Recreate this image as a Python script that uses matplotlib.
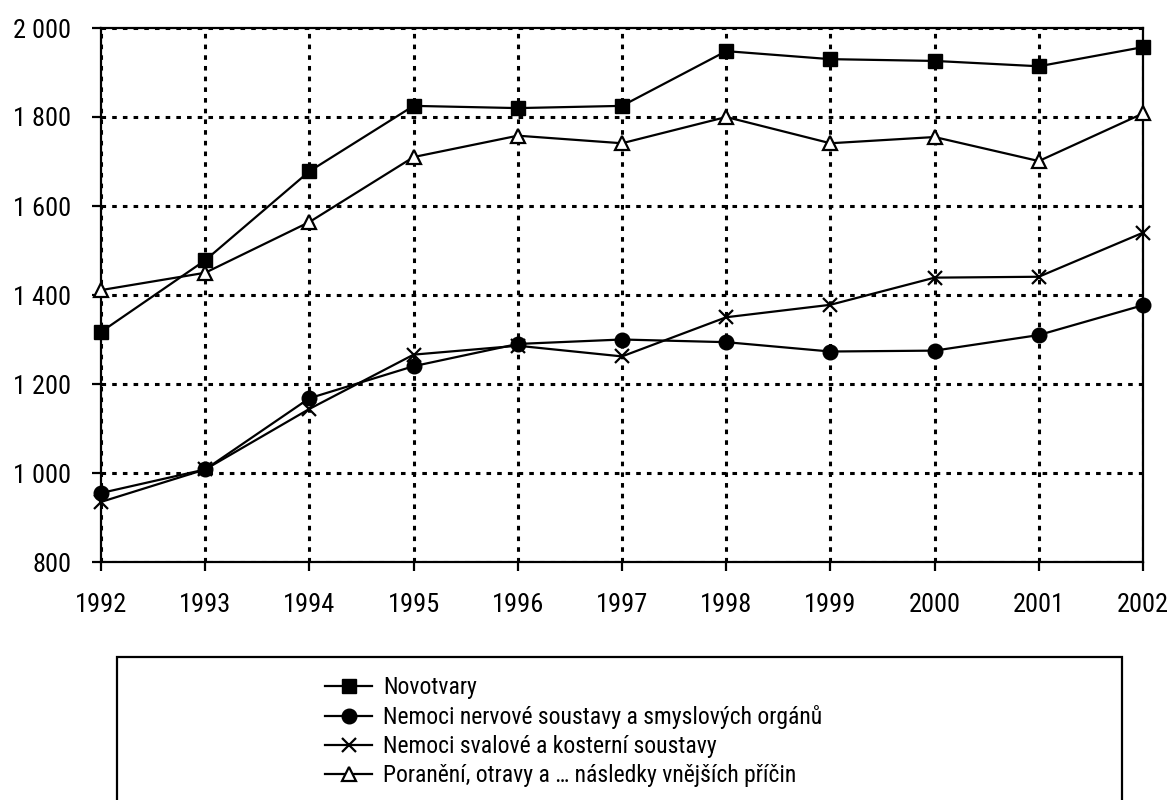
import matplotlib.pyplot as plt
from matplotlib import font_manager
from matplotlib.ticker import FuncFormatter
from matplotlib.patches import Rectangle

# prefer a narrow sans (the original uses Arial Narrow)
installed = {f.name for f in font_manager.fontManager.ttflist}
narrow = [n for n in ['Liberation Sans Narrow', 'Arial Narrow', 'Roboto Condensed',
                      'Noto Sans Condensed', 'Open Sans Condensed', 'DejaVu Sans Condensed']
          if n in installed]
plt.rcParams['font.family'] = narrow + ['Liberation Sans', 'DejaVu Sans']
is_narrow = bool(narrow)

years = [1992, 1993, 1994, 1995, 1996, 1997, 1998, 1999, 2000, 2001, 2002]
novotvary = [1317, 1478, 1678, 1825, 1820, 1825, 1948, 1930, 1926, 1914, 1957]
nervove = [955, 1008, 1168, 1240, 1290, 1300, 1294, 1273, 1275, 1310, 1377]
svalove = [935, 1008, 1144, 1266, 1286, 1262, 1350, 1378, 1439, 1441, 1540]
poraneni = [1411, 1450, 1564, 1710, 1758, 1741, 1800, 1741, 1755, 1701, 1808]

labels = ['Novotvary',
          'Nemoci nervové soustavy a smyslových orgánů',
          'Nemoci svalové a kosterní soustavy',
          'Poranění, otravy a … následky vnějších příčin']

fig = plt.figure(figsize=(11.73, 8.0), dpi=100)
ax = fig.add_axes([101 / 1173, 1 - 562 / 800, 1042 / 1173, 534 / 800])

lw = 1.6
ax.plot(years, novotvary, color='black', lw=lw, marker='s', ms=10.5,
        mfc='black', mec='black', clip_on=False, zorder=5, label=labels[0])
ax.plot(years, nervove, color='black', lw=lw, marker='o', ms=10.5,
        mfc='black', mec='black', clip_on=False, zorder=5, label=labels[1])
ax.plot(years, svalove, color='black', lw=lw, marker='x', ms=10.5, mew=1.6,
        clip_on=False, zorder=5, label=labels[2])
ax.plot(years, poraneni, color='black', lw=lw, marker='^', ms=10,
        mfc='white', mec='black', mew=1.6, clip_on=False, zorder=5, label=labels[3])

ax.set_xlim(1992, 2002)
ax.set_ylim(800, 2000)
ax.set_xticks(years)
ax.set_yticks(range(800, 2001, 200))
ax.yaxis.set_major_formatter(FuncFormatter(lambda v, p: f'{int(v):,}'.replace(',', ' ')))

ax.grid(True, color='black', lw=2.2, linestyle=(0, (1.5, 2.0)))
for s in ax.spines.values():
    s.set_linewidth(1.6)
    s.set_color('black')
tick_fs = 19 if is_narrow else 17
leg_fs = 17 if is_narrow else 15
ax.tick_params(axis='both', direction='out', length=6.5, width=1.6,
               labelsize=tick_fs)
ax.tick_params(axis='y', pad=15)
ax.tick_params(axis='x', pad=16)

# legend frame, clipped at figure bottom
fig.patches.append(Rectangle((117 / 1173, -0.05), 1005 / 1173, 1 - 657 / 800 + 0.05,
                             transform=fig.transFigure, fill=False,
                             edgecolor='black', lw=1.6))
fig.legend(loc='upper left', bbox_to_anchor=(325 / 1173, 1 - 676 / 800),
           frameon=False, fontsize=leg_fs, handlelength=2.0, handletextpad=0.45,
           labelspacing=0.26, borderpad=0, borderaxespad=0)

fig.savefig('out.png', dpi=100)
